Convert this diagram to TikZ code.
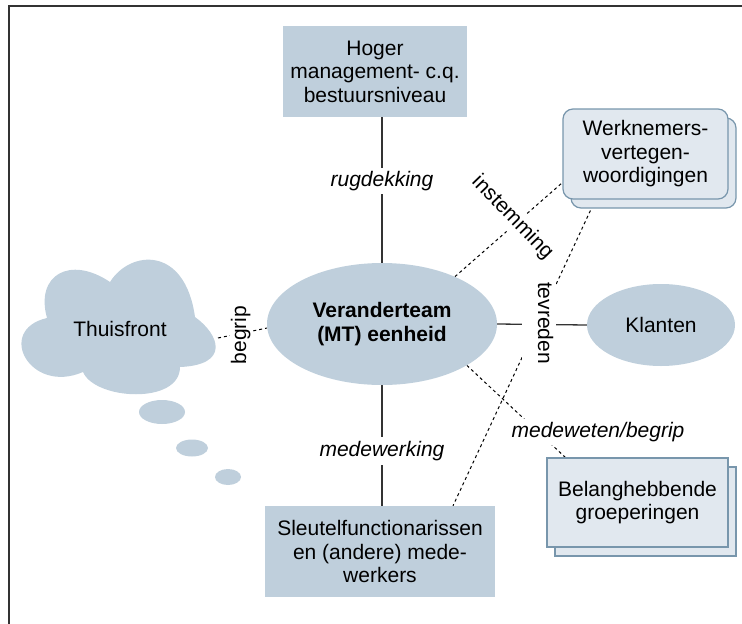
\documentclass[tikz,border=0pt]{standalone}
\usepackage{fontspec}
\setmainfont{Liberation Sans}
\usetikzlibrary{shapes.geometric,shadows,backgrounds,calc}
\definecolor{fillb}{RGB}{191,207,220}
\definecolor{lightb}{RGB}{225,232,239}
\definecolor{bordb}{RGB}{120,150,172}
\begin{document}
\begin{tikzpicture}[x=1pt,y=-1pt,
  txt/.style={font=\fontsize{21}{23.5}\selectfont, align=center},
  mainbox/.style={txt, fill=fillb, inner sep=0pt},
  lightbox/.style={txt, fill=lightb, draw=bordb, line width=1.2pt, inner sep=0pt,
    copy shadow={shadow xshift=8pt, shadow yshift=-9pt, fill=lightb, draw=bordb, line width=1.2pt}},
  lab/.style={font=\fontsize{21}{23.5}\selectfont\itshape, fill=white, text height=15pt, text depth=5pt, inner sep=3pt},
  ulab/.style={font=\fontsize{21}{23.5}\selectfont, fill=white, text height=15pt, text depth=5pt, inner sep=3pt},
  conn/.style={draw=black!80, line width=1.3pt},
  dconn/.style={draw=black, line width=1pt, dash pattern=on 3pt off 3pt},
]
\useasboundingbox (0,0) rectangle (742,624);
\draw[line width=2pt, black!80] (742,6) -- (9,6) -- (9,624);

% cloud
\fill[fillb] (47,318) .. controls (35,275) and (70,255) .. (110,282)
  .. controls (130,250) and (185,245) .. (195,317)
  .. controls (220,335) and (230,365) .. (180,367)
  .. controls (180,405) and (95,400) .. (83,372)
  .. controls (30,395) and (-5,330) .. (47,318) -- cycle;
\fill[fillb] (162,412) ellipse [x radius=23pt, y radius=12pt];
\fill[fillb] (192,448) ellipse [x radius=16pt, y radius=8.5pt];
\fill[fillb] (228,477) ellipse [x radius=13pt, y radius=8pt];
\node[txt] (thuis) at (120,329) {Thuisfront};
\coordinate (cloudE) at (218,338);

% nodes
\node[mainbox, minimum width=184pt, minimum height=91pt] (top) at (375,71.5) {Hoger\\management- c.q.\\bestuursniveau};
\node[mainbox, minimum width=230pt, minimum height=91pt] (bot) at (380,551.5) {Sleutelfunctionarissen\\en (andere) mede-\\werkers};
\node[txt, ellipse, fill=fillb, inner sep=0pt, minimum width=230pt, minimum height=122pt, font=\fontsize{21}{23.5}\selectfont\bfseries] (ve) at (382,324) {Veranderteam\\(MT) eenheid};
\node[txt, ellipse, fill=fillb, inner sep=0pt, minimum width=148pt, minimum height=82pt] (kl) at (661,325) {Klanten};
\node[lightbox, rounded corners=10pt, minimum width=165pt, minimum height=90pt] (wn) at (645.5,154) {Werknemers-\\vertegen-\\woordigingen};
\node[lightbox, minimum width=181pt, minimum height=89pt] (bel) at (637.5,502.5) {Belanghebbende\\groeperingen};

% connectors
\begin{scope}[on background layer]
\draw[conn] (top.south -| ve.north) -- (ve.north);
\draw[conn] (ve.south) -- (ve.south |- bot.north);
\draw[conn] (ve.east) -- (kl.west);
\draw[dconn] (cloudE) -- (ve.182);
\draw[dconn] (ve.33) -- (wn.199);
\draw[dconn] ($(wn.south)+(-50,0)$) -- ($(bot.north)+(73,0)$);
\draw[dconn] (ve.-26) -- (bel.148);
\end{scope}

% labels
\node[lab] (l1) at (382,181) {rugdekking};
\node[lab, inner sep=4pt] (l2) at (382,451) {medewerking};
\node[ulab, rotate=90, inner sep=1.5pt] (l3) at (241,335) {begrip};
\node[ulab, rotate=-46] (l4) at (512,218) {instemming};
\node[ulab, rotate=-90, text depth=13pt] (l5) at (539,323) {tevreden};
\node[lab] (l6) at (598,432) {medeweten/begrip};
\end{tikzpicture}
\end{document}
